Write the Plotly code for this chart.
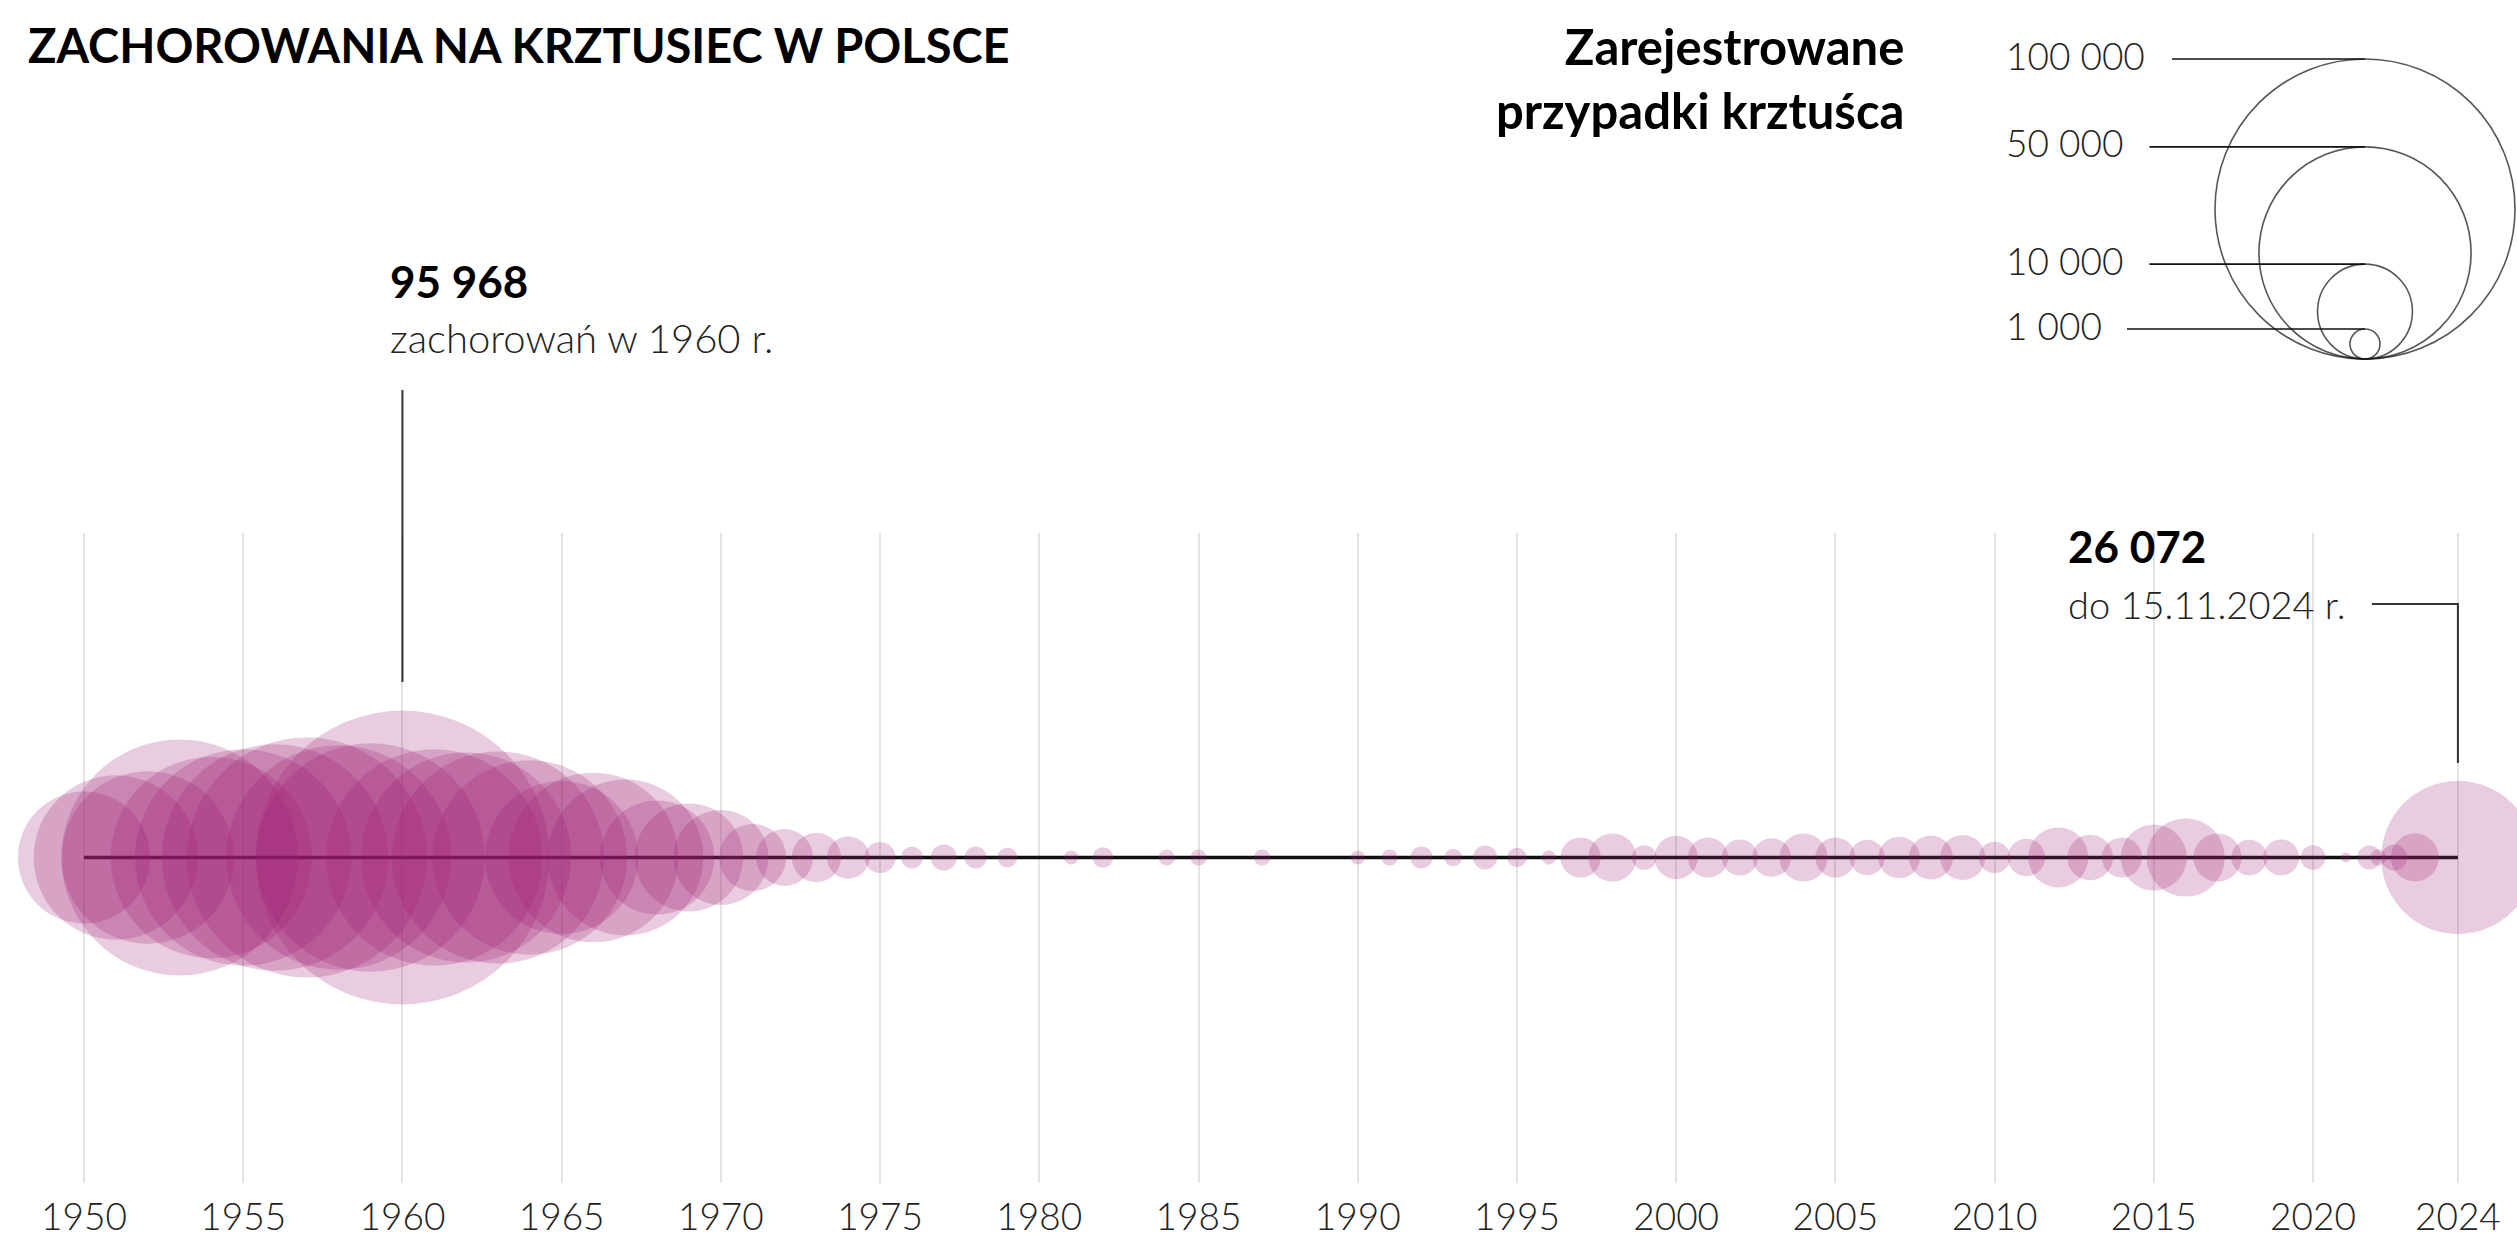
import plotly.graph_objects as go

# ---------------- data ----------------
years = [1950, 1951, 1952, 1953, 1954, 1955, 1956, 1957, 1958, 1959,
         1960, 1961, 1962, 1963, 1964, 1965, 1966, 1967, 1968, 1969,
         1970, 1971, 1972, 1973, 1974, 1975, 1976, 1977, 1978, 1979,
         1981, 1982, 1984, 1985, 1987,
         1990, 1991, 1992, 1993, 1994, 1995, 1996, 1997, 1998, 1999,
         2000, 2001, 2002, 2003, 2004, 2005, 2006, 2007, 2008, 2009,
         2010, 2011, 2012, 2013, 2014, 2015, 2016, 2017, 2018, 2019,
         2020, 2021.03, 2021.77, 2022.05, 2022.55, 2023.2, 2024.55]
cases = [19400, 30000, 33000, 62000, 45000, 52000, 57000, 64000, 56000, 58000,
         95968, 52000, 49000, 50000, 42000, 26000, 32000, 27000, 14500, 13000,
         10000, 5000, 3600, 2700, 2000, 1070, 520, 750, 540, 430,
         218, 475, 285, 285, 285,
         218, 285, 540, 336, 640, 418, 230, 1800, 2580, 680,
         2090, 1800, 1440, 1660, 2560, 1780, 1390, 1920, 2150, 2250,
         1100, 1550, 4000, 2310, 1780, 4840, 6800, 2580, 1410, 1440,
         680, 110, 640, 285, 750, 2560, 26072]

tick_years = [1950, 1955, 1960, 1965, 1970, 1975, 1980, 1985, 1990, 1995,
              2000, 2005, 2010, 2015, 2020, 2024.55]
tick_labels = ["1950", "1955", "1960", "1965", "1970", "1975", "1980", "1985",
               "1990", "1995", "2000", "2005", "2010", "2015", "2020", "2024"]

legend_values = [100000, 50000, 10000, 1000]
legend_labels = ["100 000", "50 000", "10 000", "1 000"]

title_text = "ZACHOROWANIA NA KRZTUSIEC W POLSCE"
legend_title = "Zarejestrowane<br>przypadki krztuśca"
peak_value_text = "95 968"
peak_note = "zachorowań w 1960 r."
last_value_text = "26 072"
last_note = "do 15.11.2024 r."

# ---------------- geometry ----------------
W, H = 2517, 1241
MB = 58
PH = H - MB            # plot-area height in px (t=0)


def py(px):            # px from top -> paper y
    return 1 - px / PH


def pxx(px):           # px from left -> paper x
    return px / W


FIRST_PX = 84
PX_PER_YEAR = 31.843
x_range = [years[0] - FIRST_PX / PX_PER_YEAR,
           years[0] + (W - FIRST_PX) / PX_PER_YEAR]

R_MAX = 150.0                              # radius of a 100 000 bubble
sizeref = 100000 / (2 * R_MAX ** 2)


def radius(v):
    return (v / (2 * sizeref)) ** 0.5


BUBBLE = "rgba(158,28,112,0.32)"
LIGHT = dict(family="Lato", weight=300, color="#222")
BOLD = dict(family="Lato", weight=700, color="#000")

fig = go.Figure()

# baseline
fig.add_trace(go.Scatter(x=[years[0], years[-1]], y=[0, 0], mode="lines",
                         line=dict(color="#111", width=3.5), hoverinfo="skip"))
# bubbles
fig.add_trace(go.Scatter(x=years, y=[0] * len(years), mode="markers",
                         marker=dict(size=cases, sizemode="area", sizeref=sizeref,
                                     color=BUBBLE, line=dict(width=0)),
                         hovertemplate="%{x}: %{marker.size}<extra></extra>"))

# size legend
LEG_CX = 2365
LEG_BOTTOM = 359
fig.add_trace(go.Scatter(x=[LEG_CX] * len(legend_values),
                         y=[LEG_BOTTOM - radius(v) for v in legend_values],
                         xaxis="x2", yaxis="y2", mode="markers",
                         marker=dict(size=legend_values, sizemode="area", sizeref=sizeref,
                                     color="rgba(0,0,0,0)",
                                     line=dict(color="#111", width=1.6)),
                         hoverinfo="skip"))

shapes = []
annotations = []
LEG_LABEL_X = 2004
for v, lab in zip(legend_values, legend_labels):
    top = LEG_BOTTOM - 2 * radius(v)
    n_digits = sum(c.isdigit() for c in lab)
    n_sp = lab.count(" ")
    x_end = LEG_LABEL_X + n_digits * 22.5 + n_sp * 9 + 24
    shapes.append(dict(type="line", xref="x2", yref="y2", x0=x_end, x1=LEG_CX,
                       y0=top, y1=top, line=dict(color="#111", width=1.6)))
    annotations.append(dict(xref="x2", yref="y2", x=LEG_LABEL_X, y=top - 4, text=lab,
                            showarrow=False, xanchor="left", yanchor="middle",
                            font=dict(size=37, **LIGHT)))

# title & legend title
annotations.append(dict(xref="paper", yref="paper", x=pxx(26), y=py(45), text=f"<b>{title_text}</b>",
                        showarrow=False, xanchor="left", yanchor="middle",
                        font=dict(size=47, **BOLD)))
annotations.append(dict(xref="paper", yref="paper", x=pxx(1906), y=py(78), text=f"<b>{legend_title}</b>",
                        showarrow=False, xanchor="right", yanchor="middle", align="right",
                        font=dict(size=49, **BOLD)))

# peak annotation
peak_year = years[cases.index(max(cases))]
annotations.append(dict(xref="paper", yref="paper", x=pxx(388), y=py(281), text=f"<b>{peak_value_text}</b>",
                        showarrow=False, xanchor="left", yanchor="middle",
                        font=dict(size=44, **BOLD)))
annotations.append(dict(xref="paper", yref="paper", x=pxx(388), y=py(338), text=peak_note,
                        showarrow=False, xanchor="left", yanchor="middle",
                        font=dict(size=40, **LIGHT)))
shapes.append(dict(type="line", xref="x", yref="paper", x0=peak_year, x1=peak_year,
                   y0=py(390), y1=py(682), line=dict(color="#333", width=2)))

# last-value annotation
last_year = years[-1]
annotations.append(dict(xref="paper", yref="paper", x=pxx(2066), y=py(546), text=f"<b>{last_value_text}</b>",
                        showarrow=False, xanchor="left", yanchor="middle",
                        font=dict(size=44, **BOLD)))
annotations.append(dict(xref="paper", yref="paper", x=pxx(2066), y=py(604), text=last_note,
                        showarrow=False, xanchor="left", yanchor="middle",
                        font=dict(size=38, **LIGHT)))
x_start = last_year - 86 / PX_PER_YEAR
shapes.append(dict(type="path", xref="x", yref="paper",
                   path=f"M {x_start},{py(604)} L {last_year},{py(604)} L {last_year},{py(763)}",
                   line=dict(color="#333", width=2)))

fig.update_layout(
    width=W, height=H,
    margin=dict(l=0, r=0, t=0, b=MB, pad=0, autoexpand=False),
    paper_bgcolor="white", plot_bgcolor="white",
    showlegend=False,
    xaxis=dict(range=x_range, domain=[0, 1], anchor="y", automargin=False,
               tickmode="array", tickvals=tick_years, ticktext=tick_labels,
               showgrid=True, gridcolor="#e4e4e4", gridwidth=1.5,
               zeroline=False, showline=False, ticks="",
               ticklabelstandoff=9,
               tickfont=dict(size=37, **LIGHT)),
    yaxis=dict(domain=[0, py(532)], range=[-1, 1], visible=False, fixedrange=True,
               automargin=False),
    xaxis2=dict(domain=[0, 1], range=[0, W], anchor="y2", visible=False, automargin=False),
    yaxis2=dict(domain=[py(533), 1], range=[533, 0], anchor="x2", visible=False,
                automargin=False),
    shapes=shapes,
    annotations=annotations,
)

fig.write_html("out.html",
               config={"displayModeBar": False},
               post_script="document.body.style.margin='0px';"
                           "document.documentElement.style.overflow='hidden';")
